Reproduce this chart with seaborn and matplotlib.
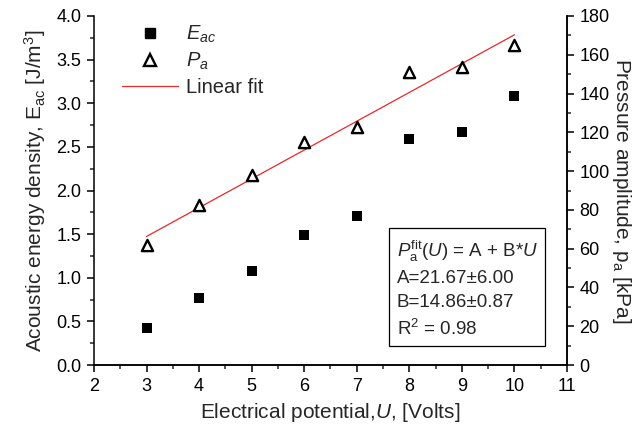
import numpy as np
import pandas as pd
import seaborn as sns
import matplotlib.pyplot as plt
from matplotlib.lines import Line2D
from matplotlib.ticker import MultipleLocator

# values
voltage = [3, 4, 5, 6, 7, 8, 9, 10]
e_ac = [0.42, 0.77, 1.08, 1.49, 1.71, 2.59, 2.67, 3.08]
p_a = [61.9, 82.5, 98.0, 115.0, 123.0, 151.0, 153.7, 165.0]
fit_u = [3, 10]
fit_p = [66.3, 170.3]
fit_text = ["$P_\\mathrm{a}^\\mathrm{fit}(U)$ = A + B*$U$",
            "A=21.67\u00b16.00",
            "B=14.86\u00b10.87",
            "R$^2$ = 0.98"]

sns.set_theme(style="ticks")
plt.rcParams['font.family'] = ['Liberation Sans', 'DejaVu Sans']
plt.rcParams['mathtext.fontset'] = 'custom'
plt.rcParams['mathtext.rm'] = 'Liberation Sans'
plt.rcParams['mathtext.it'] = 'Liberation Sans:italic'
plt.rcParams['mathtext.bf'] = 'Liberation Sans:bold'

df = pd.DataFrame({"U": voltage, "E": e_ac, "P": p_a})
fit_df = pd.DataFrame({"U": fit_u, "P": fit_p})

fig = plt.figure(figsize=(6.41, 4.32), dpi=100)
ax = fig.add_axes([0.1466, 0.155, 0.738, 0.808])
ax2 = ax.twinx()

sns.scatterplot(data=df, x="U", y="E", ax=ax, marker="s", color="black",
                s=60, linewidth=0, legend=False, zorder=3)
sns.scatterplot(data=df, x="U", y="P", ax=ax2, marker="^", facecolor="white",
                edgecolor="black", linewidth=1.7, s=65, legend=False, zorder=3)
sns.lineplot(data=fit_df, x="U", y="P", ax=ax2, color="#e8282b", linewidth=0.9,
             legend=False, zorder=2)

ax.set_xlim(2, 11)
ax.set_ylim(0, 4.0)
ax2.set_ylim(0, 180)
ax.xaxis.set_major_locator(MultipleLocator(1))
ax.xaxis.set_minor_locator(MultipleLocator(0.5))
ax.yaxis.set_major_locator(MultipleLocator(0.5))
ax.yaxis.set_minor_locator(MultipleLocator(0.25))
ax2.yaxis.set_major_locator(MultipleLocator(20))
ax2.yaxis.set_minor_locator(MultipleLocator(10))
ax.yaxis.set_major_formatter(plt.FormatStrFormatter('%.1f'))

for a in (ax, ax2):
    a.spines['top'].set_visible(False)
    for s in a.spines.values():
        s.set_linewidth(1.1)
        s.set_color('black')
    a.tick_params(which='major', direction='out', length=5, width=1.1,
                  labelsize=13, colors='black', pad=4)
    a.tick_params(which='minor', direction='out', length=3, width=1.1)
ax2.spines['left'].set_visible(False)

ax.set_xlabel("Electrical potential,$U$, [Volts]", fontsize=15, labelpad=5)
ax.set_ylabel("Acoustic energy density, E$_\\mathrm{ac}$ [J/m$^3$]", fontsize=15, labelpad=6)
ax2.set_ylabel("Pressure amplitude, p$_\\mathrm{a}$ [kPa]", fontsize=15,
               rotation=270, labelpad=17)

handles = [
    Line2D([], [], marker="s", color="black", linestyle="none", markersize=7),
    Line2D([], [], marker="^", markerfacecolor="white", markeredgecolor="black",
           markeredgewidth=1.7, linestyle="none", markersize=8),
    Line2D([], [], color="#e8282b", linewidth=0.9),
]
labels = ["$E_{ac}$", "$P_a$", "Linear fit"]
ax.legend(handles, labels, loc="upper left", bbox_to_anchor=(0.02, 1.03),
          frameon=False, fontsize=14.5, handlelength=2.8, labelspacing=0.3,
          handletextpad=0.4)

ax2.text(0.64, 0.075, "\n".join(fit_text), transform=ax.transAxes,
         fontsize=13.5, va="bottom", ha="left", linespacing=1.5,
         bbox=dict(boxstyle="square,pad=0.4", facecolor="white",
                   edgecolor="black", linewidth=0.9))

plt.savefig("out.png", dpi=100)
